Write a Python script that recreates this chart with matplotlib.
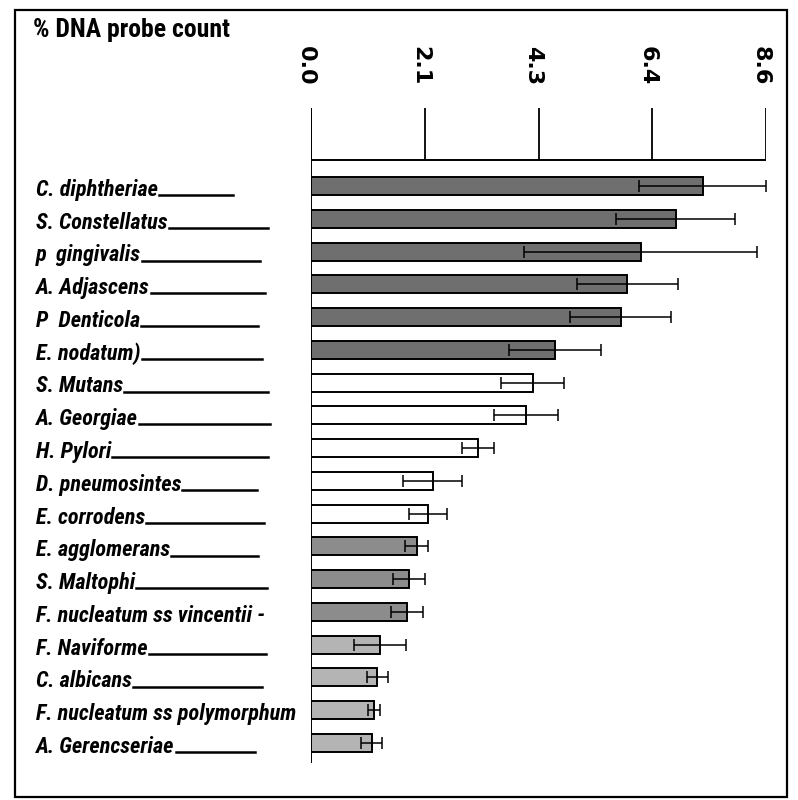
import matplotlib
matplotlib.use("Agg")
import matplotlib.pyplot as plt
from matplotlib.lines import Line2D
from matplotlib.patches import Rectangle
import matplotlib.transforms as mtransforms

# ---------------- data ----------------
species = ["C. diphtheriae", "S. Constellatus", "p  gingivalis", "A. Adjascens",
           "P  Denticola", "E. nodatum)", "S. Mutans", "A. Georgiae", "H. Pylori",
           "D. pneumosintes", "E. corrodens", "E. agglomerans", "S. Maltophi",
           "F. nucleatum ss vincentii -", "F. Naviforme", "C. albicans",
           "F. nucleatum ss polymorphum", "A. Gerencseriae"]
means = [7.40, 6.89, 6.23, 5.98, 5.85, 4.62, 4.19, 4.06, 3.16, 2.30,
         2.21, 2.00, 1.85, 1.81, 1.30, 1.25, 1.19, 1.15]
errors = [1.20, 1.12, 2.20, 0.95, 0.96, 0.87, 0.59, 0.60, 0.30, 0.56,
          0.36, 0.22, 0.30, 0.30, 0.49, 0.20, 0.12, 0.20]
groups = ["dark"] * 6 + ["white"] * 5 + ["mid"] * 3 + ["light"] * 4
tick_values = [0.0, 2.15, 4.3, 6.45, 8.6]
tick_labels = ["0.0", "2.1", "4.3", "6.4", "8.6"]
title = "% DNA probe count"

# ---------------- style / layout ----------------
group_colors = {"dark": "#6f6f6f", "white": "#ffffff", "mid": "#8c8c8c", "light": "#b4b4b4"}
# x pixel where each leader line ends (None = no leader line)
leader_end_px = [233, 268, 260, 265, 258, 262, 268, 270, 268, 257,
                 264, 258, 267, None, 266, 262, None, 255]
label_font = ["Roboto Condensed", "DejaVu Sans"]

W, H = 798, 800
fig = plt.figure(figsize=(W / 100, H / 100), dpi=100)
fig.patch.set_facecolor("white")

ax_left, ax_right = 311, 766
ax_top, ax_bottom = 108, 763
ax = fig.add_axes([ax_left / W, 1 - ax_bottom / H,
                   (ax_right - ax_left) / W, (ax_bottom - ax_top) / H])
row_px = 32.76
first_px = 186
ax.set_xlim(0, 8.6)
ax.set_ylim((ax_bottom - first_px) / row_px, (ax_top - first_px) / row_px)
ax.axis("off")

idx = list(range(len(species)))
ax.barh(idx, means, height=0.55, color=[group_colors[g] for g in groups],
        edgecolor="black", linewidth=1.4, zorder=2)
ax.errorbar(means, idx, xerr=errors, fmt="none", ecolor="black",
            elinewidth=1.1, capsize=4, capthick=1.1, zorder=3)

axis_line_y = (160 - first_px) / row_px
grid_top = (ax_top - first_px) / row_px
ax.vlines(tick_values, grid_top, axis_line_y, color="black", linewidth=1.3, zorder=1)
ax.hlines(axis_line_y, 0, 8.6, color="black", linewidth=1.4, zorder=1)
ax.vlines(0, grid_top, (ax_bottom - first_px) / row_px, color="black",
          linewidth=1.4, zorder=4)

label_y = (46 - first_px) / row_px
tick_trans = mtransforms.offset_copy(ax.transData, fig=fig, x=-5, y=0, units="dots")
for tv, tl in zip(tick_values, tick_labels):
    ax.text(tv, label_y, tl, rotation=-90, ha="center", va="top", transform=tick_trans,
            fontsize=16, fontweight="bold", family="DejaVu Sans", clip_on=False)

fig.text(33 / W, 1 - 30 / H, title, ha="left", va="center", fontsize=18.5,
         fontweight="bold", family=label_font)

trans = mtransforms.blended_transform_factory(fig.transFigure, ax.transData)
texts = []
for i, name in enumerate(species):
    t = ax.text(36 / W, i + 0.12, name, transform=trans, ha="left", va="center",
                fontsize=16, fontweight="bold", style="italic",
                family=label_font, clip_on=False)
    texts.append(t)

fig.canvas.draw()
renderer = fig.canvas.get_renderer()
for i, (t, end) in enumerate(zip(texts, leader_end_px)):
    if end is None:
        continue
    bb = t.get_window_extent(renderer)
    y_disp = ax.transData.transform((0, i + 0.28))[1]
    x0 = (bb.x1 + 1) / W
    fig.add_artist(Line2D([x0, end / W], [y_disp / H, y_disp / H],
                          transform=fig.transFigure, color="black", linewidth=1.8))

fig.add_artist(Rectangle((15 / W, 1 - 797 / H), (787 - 15) / W, (797 - 10) / H,
                         transform=fig.transFigure, fill=False,
                         edgecolor="black", linewidth=1.6))

fig.savefig("out.png", dpi=100, facecolor="white")
